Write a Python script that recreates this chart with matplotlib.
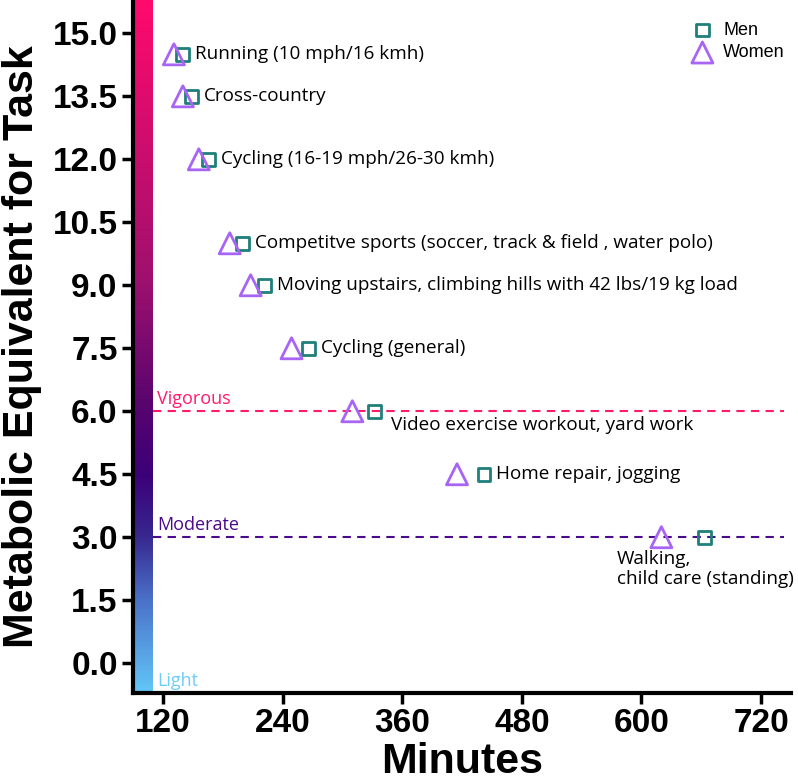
import numpy as np
import matplotlib
matplotlib.use("Agg")
import matplotlib.pyplot as plt
from matplotlib.colors import LinearSegmentedColormap

# activity labels and MET values
activities = ["Running (10 mph/16 kmh)", "Cross-country", "Cycling (16-19 mph/26-30 kmh)",
              "Competitve sports (soccer, track & field , water polo)",
              "Moving upstairs, climbing hills with 42 lbs/19 kg load",
              "Cycling (general)", "Video exercise workout, yard work",
              "Home repair, jogging", "Walking,\nchild care (standing)"]
met = [14.5, 13.5, 12.0, 10.0, 9.0, 7.5, 6.0, 4.5, 3.0]
men_minutes = [140, 149, 166, 200, 222, 266, 332, 442, 663]
women_minutes = [131, 140, 156, 187, 208, 249, 310, 415, 620]

intensity_names = ["Vigorous", "Moderate", "Light"]
intensity_levels = [6.0, 3.0, -0.71]

x_ticks = [120, 240, 360, 480, 600, 720]
y_ticks = [0.0, 1.5, 3.0, 4.5, 6.0, 7.5, 9.0, 10.5, 12.0, 13.5, 15.0]

MEN_COLOR = "#1f7f7a"
WOMEN_COLOR = "#a865f5"
PINK = "#ff1a6c"
PURPLE = "#4a0a8c"
LIGHT = "#6ccdf8"

fig = plt.figure(figsize=(7.98, 7.82), dpi=100)
ax = fig.add_axes([0.1667, 0.1138, 0.8245, 0.886])

xmin, xmax = 90, 750
ymin, ymax = -0.71, 15.79
ax.set_xlim(xmin, xmax)
ax.set_ylim(ymin, ymax)

# gradient bar along the y axis
cmap = LinearSegmentedColormap.from_list("met", [
    (0.00, "#62c6f8"), (0.135, "#4a70c8"), (0.225, "#37278f"),
    (0.315, "#3c0078"), (0.41, "#56046f"), (0.60, "#a0106e"), (1.00, "#ff0a6c")])
grad = np.linspace(0, 1, 256).reshape(-1, 1)
ax.imshow(grad, aspect="auto", cmap=cmap, origin="lower",
          extent=[xmin, xmin + 20, ymin, ymax], zorder=1)

# intensity lines
ax.axhline(6.0, xmin=20 / (xmax - xmin), xmax=0.99, color=PINK, ls=(0, (4, 3)), lw=1.5, zorder=2)
ax.axhline(3.0, xmin=20 / (xmax - xmin), xmax=0.99, color=PURPLE, ls=(0, (4, 3)), lw=1.5, zorder=2)
for name, lvl, col in zip(intensity_names, intensity_levels, [PINK, PURPLE, LIGHT]):
    ax.annotate(name, (xmin + 20, lvl), xytext=(3, 2), textcoords="offset points",
                ha="left", va="bottom", fontsize=13, color=col, family="Open Sans")

ax.scatter(women_minutes, met, marker="^", s=230, facecolors="none",
           edgecolors=WOMEN_COLOR, linewidths=2, zorder=4, label="Women")
ax.scatter(men_minutes, met, marker="s", s=85, facecolors="none",
           edgecolors=MEN_COLOR, linewidths=2, zorder=3, label="Men")

for i, (name, x, y) in enumerate(zip(activities, men_minutes, met)):
    if i == 6:
        ax.annotate(name, (x, y), xytext=(12, -10), textcoords="offset points",
                    ha="left", va="center", fontsize=13.6, family="Open Sans")
    elif i == 8:
        ax.annotate(name, (x, y), xytext=(-63, -9), textcoords="offset points",
                    ha="left", va="top", fontsize=13.6, family="Open Sans", linespacing=1.15)
    else:
        ax.annotate(name, (x, y), xytext=(9, 0), textcoords="offset points",
                    ha="left", va="center", fontsize=13.6, family="Open Sans")

handles, labels = ax.get_legend_handles_labels()
ax.legend(handles[::-1], labels[::-1], loc="upper left", bbox_to_anchor=(0.805, 1.0),
          frameon=False, handletextpad=0.15, labelspacing=0.3, borderaxespad=0.8,
          prop={"family": "Liberation Sans", "size": 13})

ax.set_xticks(x_ticks)
ax.set_yticks(y_ticks)
ax.set_yticklabels([f"{v:.1f}" for v in y_ticks])
for lab in ax.get_xticklabels() + ax.get_yticklabels():
    lab.set_family("Liberation Sans")
    lab.set_fontweight("bold")
    lab.set_fontsize(24)
ax.tick_params(width=2.5, length=8, pad=3)

ax.set_xlabel("Minutes", fontsize=31, fontweight="bold", family="Liberation Sans", labelpad=2)
ax.set_ylabel("Metabolic Equivalent for Task", fontsize=31, fontweight="bold",
              family="Liberation Sans", labelpad=8)

for side in ["top", "right"]:
    ax.spines[side].set_visible(False)
for side in ["left", "bottom"]:
    ax.spines[side].set_linewidth(3)

fig.savefig("out.png", dpi=100)
